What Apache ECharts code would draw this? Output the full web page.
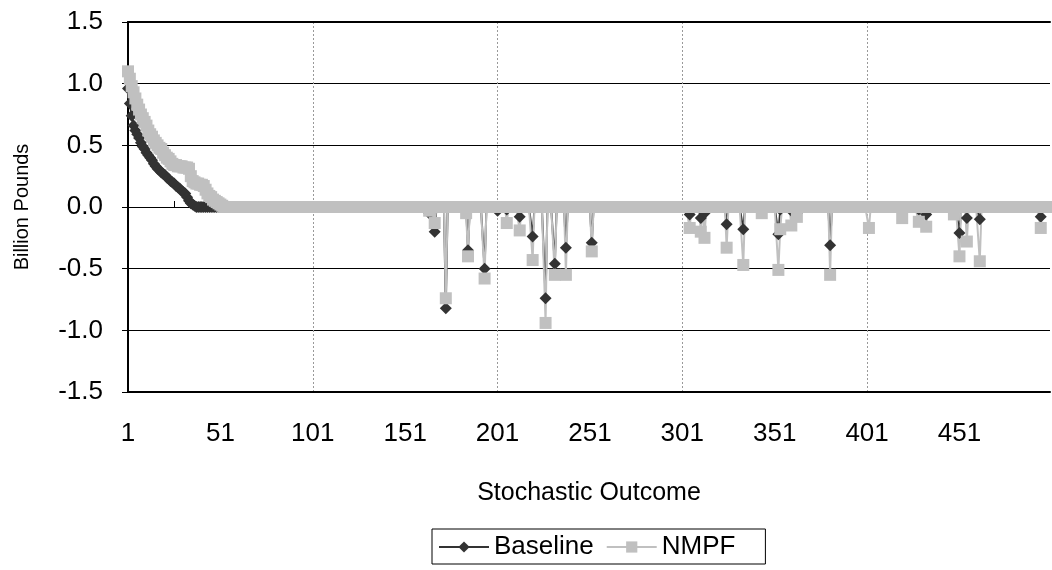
<!DOCTYPE html>
<html>
<head>
<meta charset="utf-8">
<script src="https://cdn.jsdelivr.net/npm/echarts@6/dist/echarts.min.js"></script>
<style>
  html, body { margin: 0; padding: 0; background: #fff; }
  #chart { width: 1052px; height: 570px; }
</style>
</head>
<body>
<div id="chart"></div>
<script>
// stochastic outcomes 1..500
const outcomes = Array.from({ length: 500 }, (_, i) => String(i + 1))
const yTicks = [-1.5, -1.0, -0.5, 0.0, 0.5, 1.0, 1.5]

// sorted positive outcomes at the start (billion pounds)
const baselineHead = [
  0.96, 0.84, 0.74, 0.66, 0.62, 0.59, 0.56, 0.52, 0.49, 0.47,
  0.44, 0.42, 0.40, 0.38, 0.35, 0.33, 0.31, 0.30, 0.28, 0.27,
  0.26, 0.24, 0.23, 0.21, 0.20, 0.19, 0.17, 0.16, 0.15, 0.13,
  0.12, 0.11, 0.08, 0.05, 0.03, 0.02, 0.01, 0.00
]
const nmpfHead = [
  1.10, 1.04, 0.98, 0.93, 0.88, 0.83, 0.79, 0.75, 0.72, 0.69,
  0.66, 0.62, 0.59, 0.57, 0.54, 0.52, 0.50, 0.48, 0.47, 0.44,
  0.42, 0.40, 0.39, 0.37, 0.35, 0.34, 0.34, 0.33, 0.33, 0.33,
  0.32, 0.32, 0.32, 0.31, 0.25, 0.21, 0.20, 0.19, 0.19, 0.18,
  0.18, 0.17, 0.14, 0.11, 0.09, 0.08, 0.06, 0.05, 0.04, 0.03,
  0.02, 0.01, 0.00
]

// negative outcomes further on: [outcome, baseline, nmpf]
const dips = [
  [164, -0.05, -0.03], [167, -0.20, -0.13], [173, -0.82, -0.74],
  [184, 0.00, -0.05], [185, -0.35, -0.40], [194, -0.50, -0.58],
  [201, -0.03, 0.00], [206, -0.02, -0.13], [213, -0.08, -0.19],
  [220, -0.24, -0.43], [227, -0.74, -0.94], [232, -0.46, -0.55],
  [238, -0.33, -0.55], [252, -0.29, -0.36],
  [305, -0.06, -0.17], [311, -0.09, -0.20], [313, -0.05, -0.25],
  [325, -0.14, -0.33], [334, -0.18, -0.47], [344, -0.03, -0.05],
  [353, -0.22, -0.51], [354, -0.02, -0.18], [360, -0.03, -0.15],
  [363, -0.05, -0.08], [381, -0.31, -0.55],
  [402, 0.00, -0.17], [420, 0.00, -0.09], [429, -0.02, -0.12],
  [433, -0.06, -0.16], [448, -0.02, -0.06], [451, -0.21, -0.40],
  [455, -0.09, -0.28], [462, -0.10, -0.44], [495, -0.08, -0.17]
]

const baseline = outcomes.map(() => 0)
const nmpf = outcomes.map(() => 0)
baselineHead.forEach((v, i) => { baseline[i] = v })
nmpfHead.forEach((v, i) => { nmpf[i] = v })
dips.forEach(([n, b, m]) => { baseline[n - 1] = b; nmpf[n - 1] = m })

const font = 'Liberation Sans, Arial, sans-serif'
const chart = echarts.init(document.getElementById('chart'))

chart.setOption({
  animation: false,
  textStyle: { fontFamily: font, color: '#000' },
  grid: { left: 128, right: 2, top: 22, bottom: 178 },
  legend: {
    left: 432,
    top: 529,
    padding: [5, 30, 4, 6],
    itemGap: 12,
    itemWidth: 50,
    itemHeight: 14,
    borderColor: '#000',
    borderWidth: 1,
    borderRadius: 0,
    textStyle: { fontFamily: font, fontSize: 26, color: '#000' },
    data: ['Baseline', 'NMPF']
  },
  xAxis: [
    {
      type: 'category',
      data: outcomes,
      boundaryGap: false,
      position: 'bottom',
      axisLine: { onZero: false, lineStyle: { color: '#000', width: 2 } },
      axisTick: { show: false },
      axisLabel: {
        interval: (i) => i % 50 === 0,
        margin: 29,
        fontSize: 26,
        color: '#000',
        fontFamily: font
      },
      splitLine: {
        show: true,
        interval: (i) => i > 0 && i % 100 === 0,
        lineStyle: { color: '#999', type: [2, 2], width: 1 }
      },
      name: 'Stochastic Outcome',
      nameLocation: 'middle',
      nameGap: 89,
      nameTextStyle: { fontSize: 25, color: '#000', fontFamily: font }
    },
    {
      type: 'category',
      data: outcomes,
      boundaryGap: false,
      position: 'bottom',
      axisLine: { onZero: true, lineStyle: { color: '#000', width: 1 } },
      axisTick: { show: true, inside: true, length: 6, interval: (i) => i % 25 === 0, lineStyle: { color: '#000' } },
      axisLabel: { show: false },
      splitLine: { show: false }
    },
    {
      type: 'category',
      data: outcomes,
      boundaryGap: false,
      position: 'top',
      axisLine: { onZero: false, lineStyle: { color: '#000', width: 2 } },
      axisTick: { show: false },
      axisLabel: { show: false },
      splitLine: { show: false }
    }
  ],
  yAxis: {
    type: 'value',
    min: yTicks[0],
    max: yTicks[yTicks.length - 1],
    interval: 0.5,
    axisLine: { show: true, lineStyle: { color: '#000', width: 2 } },
    axisTick: { show: true, length: 6, lineStyle: { color: '#000' } },
    axisLabel: {
      formatter: (v) => v.toFixed(1),
      fontSize: 26,
      margin: 25,
      color: '#000',
      fontFamily: font
    },
    splitLine: { show: true, lineStyle: { color: '#000', width: 1 } },
    name: 'Billion Pounds',
    nameLocation: 'middle',
    nameGap: 96,
    nameTextStyle: { fontSize: 20, color: '#000', fontFamily: font }
  },
  series: [
    {
      name: 'Baseline',
      type: 'line',
      data: baseline,
      symbol: 'diamond',
      symbolSize: 12,
      showAllSymbol: true,
      color: '#333333',
      lineStyle: { color: '#333333', width: 2 },
      itemStyle: { color: '#333333' }
    },
    {
      name: 'NMPF',
      type: 'line',
      data: nmpf,
      symbol: 'rect',
      symbolSize: 12,
      showAllSymbol: true,
      color: '#c0c0c0',
      lineStyle: { color: '#c0c0c0', width: 2 },
      itemStyle: { color: '#c0c0c0' }
    }
  ]
})
</script>
</body>
</html>
